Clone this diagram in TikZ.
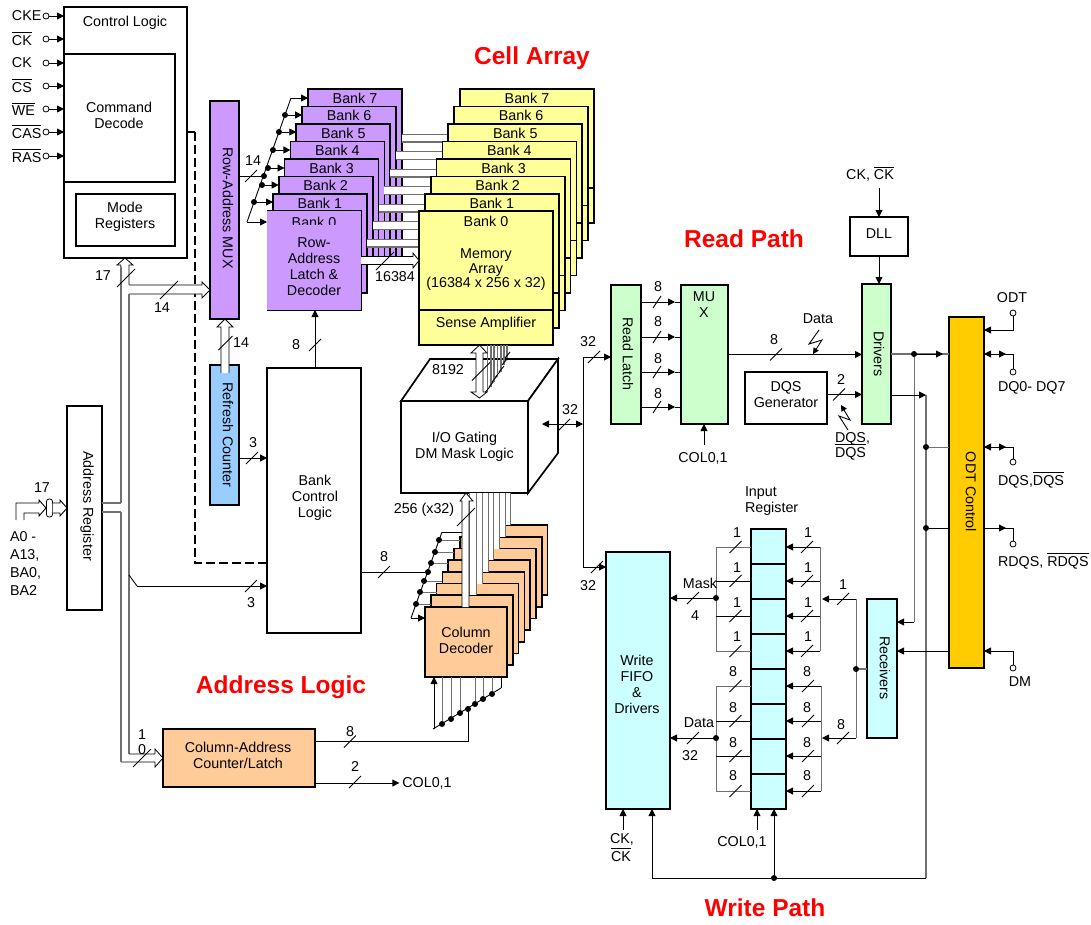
\documentclass[tikz,border=0pt]{standalone}
\usepackage{fontspec}
\setmainfont{Liberation Sans}
\usetikzlibrary{arrows.meta,calc}
\definecolor{cpurple}{HTML}{CC99FF}
\definecolor{cyellow}{HTML}{FFFF99}
\definecolor{corange}{HTML}{FFCC99}
\definecolor{cgreen}{HTML}{CCFFCC}
\definecolor{ccyan}{HTML}{CCFFFF}
\definecolor{cblue}{HTML}{99CCFF}
\definecolor{codt}{HTML}{FFCC00}
\definecolor{cgl}{HTML}{707070}
\newcommand\ovl[1]{\leavevmode\vbox{\hrule height .8pt \kern 2.2pt\hbox{#1}}}
\newcounter{tn}
\newcommand\tx[4][]{\stepcounter{tn}\node[#1] (t\arabic{tn}) at (#2,#3) {#4};}
\newcommand\bx[7][]{\pgfmathsetmacro\bw{#5-#3}\pgfmathsetmacro\bh{#6-#4}\node[box,#1,minimum width=\bw pt,minimum height=\bh pt,anchor=north west] (#2) at (#3,#4) {#7};}
\newcommand\tk[3][6]{\draw[thin1] (#2-#1,#3+#1) -- (#2+#1,#3-#1);}
\newcommand\tks[2]{\draw[thin1] (#1-4,#2+6) -- (#1+4,#2-6);}
\tikzset{
 every node/.style={font=\fontsize{14.3}{16}\selectfont,inner sep=0pt,outer sep=0pt,align=center},
 box/.style={draw,line width=1.7pt},
 thin1/.style={line width=.9pt},
 arr/.style={line width=.9pt,-{Triangle[length=7pt,width=7pt]}},
 darr/.style={line width=.9pt,{Triangle[length=7pt,width=7pt]}-{Triangle[length=7pt,width=7pt]}},
 gl/.style={line width=1.1pt,draw=cgl},
 dot/.style={circle,fill=black,minimum size=6pt},
 pinc/.style={circle,draw,fill=white,line width=.8pt,minimum size=6pt},
 bus/.style={fill=white,draw=black,line width=.8pt},
 title/.style={font=\fontsize{24.5}{28}\selectfont\bfseries,text=red},
}
\begin{document}
\begin{tikzpicture}[x=1pt,y=-1pt]
\useasboundingbox (0,0) rectangle (1091,924);
% --- control block
\bx{ctrl}{64}{7}{187}{258}{}
\bx{cmd}{64}{54}{175}{182}{}
\bx{modereg}{76}{194}{175}{246}{}
\tx{125}{23}{Control Logic}
\tx{119}{115}{Command\\Decode}
\tx{125}{217}{Mode\\Registers}
\foreach \nm/\yy/\lbl in {a/16/CKE,b/39/\ovl{CK},c/63/CK,d/86/\ovl{CS},e/109/\ovl{WE},f/132/\ovl{CAS},g/156/\ovl{RAS}}{
 \node[pinc] (p\nm) at (46,\yy) {};
 \node[anchor=west] (l\nm) at (12,\yy) {\lbl};
 \draw[arr] (p\nm.east) -- (ctrl.west |- p\nm);
}
% --- dashed control
\coordinate (dashs) at (195,132);
\draw[line width=2.6pt] (ctrl.east |- dashs) -- (dashs);
% --- bank control & others
\bx{bcl}{267}{368}{361}{633}{}
\tx{315}{498}{Bank\\Control\\Logic}
\coordinate (dashc) at (195,563);
\draw[line width=2.6pt,dash pattern=on 9pt off 4pt] (dashs) -- (dashc) -- (bcl.west |- dashc);
\bx[fill=cpurple]{rmux}{210}{101}{239}{319}{}
\tx[rotate=-90]{228}{208}{Row-Address MUX}
\bx[fill=cblue]{refresh}{210}{365}{239}{505}{}
\tx[rotate=-90]{228}{435}{Refresh Counter}
\bx{areg}{67}{406}{102}{610}{}
\tx[rotate=-90]{87}{506}{Address Register}
% address input
\draw[line width=.9pt,fill=white] (16,520) -- (16,503) -- (39,503) -- (39,500) -- (46,508) -- (39,516) -- (39,513) -- (24,513) -- (24,520);
\node[draw,fill=white,line width=.8pt,rounded corners=2.5pt,minimum width=6pt,minimum height=18pt] (oval) at (49.5,508) {};
\draw[line width=.9pt,fill=white] (oval.east |- 0,503) -- (60,503) -- (60,500) -- (areg.west |- 0,508) -- (60,516) -- (60,513) -- (oval.east |- 0,513);
\tx{42}{488}{17}
\tx[anchor=west,align=left]{10}{563}{A0 -\\[2pt]A13,\\[2pt]BA0,\\[2pt]BA2}
% address bus
\draw[gl] (areg.east |- 0,503) -- (121,503);
\draw[gl] (areg.east |- 0,512) -- (121,512);
\draw[gl] (121,265) -- (121,503);
\draw[bus] (121,265) -- (117,265) -- (ctrl.south -| 125,0) -- (133,265) -- (129,265) -- (129,285);
\draw[bus] (129,285) -- (202,285) -- (202,282) -- (rmux.west |- 0,290) -- (202,298) -- (202,294) -- (129,294);
\draw[gl] (129,294) -- (129,754);
\draw[gl] (121,512) -- (121,762);
\coordinate (bra) at (129,575);
\coordinate (brb) at (137,586);
\draw[thin1] (bra) -- (brb);
\draw[arr] (brb) -- (bcl.west |- brb);
\tk{251}{586}
\tx{251}{603}{3}
\tk[9]{126}{278}
\tx{103}{276}{17}
\tk[9]{169}{290}
\tx{162}{308}{14}
% column counter
\bx[fill=corange]{ccnt}{163}{729}{315}{787}{}
\tx{238}{755}{Column-Address\\Counter/Latch}
\draw[bus] (129,754) -- (155,754) -- (155,749) -- (ccnt.west |- 0,758) -- (155,767) -- (155,762) -- (121,762);
\tk[9]{142}{758}
\tx[fill=none]{142}{735}{1}
\tx{142}{750}{0}
% refresh to mux
\draw[bus] (221,373) -- (221,327) -- (217,327) -- (rmux.south -| 225,0) -- (233,327) -- (229,327) -- (229,373);
\tk[7]{225.5}{343}
\tx{241}{343}{14}
\draw[arr] (refresh.east |- 0,458) -- (bcl.west |- 0,458);
\tk{252}{458}
\tx{253}{443}{3}
% --- purple banks
\foreach \k in {7,...,2}{
 \pgfmathsetmacro\lx{308-5.87*(7-\k)}\pgfmathsetmacro\ty{89+17.5*(7-\k)}\pgfmathsetmacro\rx{\lx+94}
 \bx[fill=cpurple]{pb\k}{\lx}{\ty}{\rx}{262}{}
}
\bx[fill=cpurple]{pb1}{273}{194}{367}{293}{}
\foreach \k in {7,...,1}{
 \pgfmathsetmacro\xx{355-5.87*(7-\k)}\pgfmathsetmacro\yy{98+17.5*(7-\k)}
 \tx{\xx}{\yy}{Bank \k}
}
% buses purple-yellow
\foreach \k in {7,...,1}{
 \pgfmathsetmacro\xa{402-5.87*(7-\k)}\pgfmathsetmacro\xb{460-5.87*(7-\k)}\pgfmathsetmacro\ya{134+17.5*(7-\k)}\pgfmathsetmacro\yb{\ya+8}
 \fill[white] (\xa,\ya) rectangle (\xb,\yb);
 \draw[line width=.8pt,draw=cgl] (\xa,\ya) -- (\xb,\ya);
 \draw[line width=1.4pt,draw=cgl] (\xa,\yb) -- (\xb,\yb);
}
% bank 0 and latch
\node[fill=cpurple,minimum width=94pt,minimum height=100pt,anchor=north west] (pb0) at (267,210) {};
\draw[line width=.8pt] (pb0.north west) -- (pb0.north east) -- (pb0.south east) -- (pb0.south west);
\tx{314}{222}{Bank 0}
\node[fill=cpurple,minimum width=93pt,minimum height=84.5pt,anchor=north west] (latch) at (267,225) {};
\tx{314}{267}{Row-\\Address\\Latch \&\\Decoder}
% select lines to row banks
\coordinate (sa) at (247,222);
\coordinate (sb) at (291,98);
\draw[thin1] (sa) -- (sb);
\draw[arr] (sb) -- (pb7.west |- sb);
\draw[arr] (sa) -- (pb0.west |- sa);
\foreach \k/\xx/\yy in {6/285/115,5/279/132,4/273/150,3/268/168,2/262/185,1/254/202}{
 \node[dot] (ds\k) at (\xx,\yy) {};
 \draw[arr] (ds\k) -- (pb\k.west |- ds\k);
}
\node[dot] (dsj) at (264,176) {};
\draw[thin1] (rmux.east |- dsj) -- (dsj);
\tk{251}{176}
\tx{253}{161}{14}
\draw[arr] (bcl.north -| 315,0) -- (pb0.south -| 315,0);
\tk{315}{345}
\tx{296}{345}{8}
% --- yellow banks
\foreach \k in {7,...,1}{
 \pgfmathsetmacro\lx{460-5.87*(7-\k)}\pgfmathsetmacro\ty{89+17.5*(7-\k)}\pgfmathsetmacro\rx{\lx+134}\pgfmathsetmacro\by{\ty+134}\pgfmathsetmacro\dy{\ty+99}
 \bx[fill=cyellow]{yb\k}{\lx}{\ty}{\rx}{\by}{}
 \draw[line width=1.5pt] (\lx,\dy) -- (\rx,\dy);
 \pgfmathsetmacro\xx{\lx+67}\pgfmathsetmacro\yy{\ty+9}
 \tx{\xx}{\yy}{Bank \k}
}
\bx[fill=cyellow]{yb0}{419}{211}{553}{345}{}
\draw[line width=1.7pt] (yb0.west |- 0,310) -- (yb0.east |- 0,310);
\tx{486}{221}{Bank 0}
\tx{486}{270}{Memory\\[-1.5pt]Array\\[-1.5pt](16384 x 256 x 32)}
\tx{486}{324}{Sense Amplifier}
% bank0 hollow arrow
\draw[bus,draw=black] (pb0.east |- 0,256.5) -- (413,256.5) -- (413,253) -- (yb0.west |- 0,260.5) -- (413,268) -- (413,264.5) -- (pb0.east |- 0,264.5);
\tk[9]{385}{261}
\tx{395}{277}{16384}
% --- IO gating
\node[box,fill=white,minimum width=127pt,minimum height=92pt,anchor=north west] (io) at (401,401) {I/O Gating\\DM Mask Logic};
\coordinate (iob) at (430,359);
\coordinate (ioc) at (558,359);
\coordinate (iod) at (558,453);
\filldraw[fill=white,line width=1.7pt] (io.north west) -- (iob) -- (ioc) -- (io.north east) -- cycle;
\filldraw[fill=white,line width=1.7pt] (io.north east) -- (ioc) -- (iod) -- (io.south east) -- cycle;
\foreach \xx/\yy in {487.5/392,491/387,494/382,497.5/377,501/372,504/365,507/358}{
 \draw[gl] (\xx,345) -- (\xx,\yy);
 \draw[thin1] (\xx-2,\yy) -- (\xx+3,\yy-6);
}
\draw[bus] (yb0.south -| 479.5,0) -- (471,353) -- (476,353) -- (476,392) -- (471,392) -- (479.5,398) -- (487,392) -- (483,392) -- (483,353) -- (487,353) -- cycle;
\tk[9]{481}{371.5}
\tx[fill=white]{448}{370}{8192}
% --- column decoders
\foreach \k in {7,...,1}{
 \pgfmathsetmacro\lx{425+5.8*\k}\pgfmathsetmacro\ty{607-11.7*\k}\pgfmathsetmacro\rx{\lx+82}\pgfmathsetmacro\by{\ty+70}
 \bx[fill=corange]{cd\k}{\lx}{\ty}{\rx}{\by}{}
}
\bx[fill=corange]{cd0}{425}{607}{507}{677}{}
\tx{466}{640}{Column\\Decoder}
% decoder selects
\coordinate (qa) at (411,618);
\coordinate (qb) at (442,532);
\draw[thin1] (qa) -- (qb);
\draw[thin1] (qb) -- (cd7.west |- qb);
\draw[arr] (qa) -- (cd0.west |- qa);
\foreach \k/\xx/\yy in {6/439/540,5/435/552,4/431/563,3/424/581,2/420/592,1/416/604}{
 \node[dot] (dq\k) at (\xx,\yy) {};
 \draw[line width=.9pt,draw=cgl] (dq\k) -- (cd\k.west |- dq\k);
}
\node[dot] (dqj) at (428,572) {};
\draw[thin1] (bcl.east |- dqj) -- (dqj);
\tk{384}{572}
\tx{384}{557}{8}
% bars
\foreach \xa/\xb/\k in {505/510.5/7,499/505/6,493/499/5,488/493/4,482/488/3,476/482/2,469/476/1}{
 \pgfmathsetmacro\by{607-11.7*\k}
 \fill[white] (\xa,493) rectangle (\xb,\by);
 \draw[line width=.9pt,draw=cgl] (\xa,493) -- (\xa,\by);
 \draw[line width=.9pt,draw=cgl] (\xb,493) -- (\xb,\by);
}
\draw[bus] (462,607) -- (462,501) -- (460,501) -- (io.south -| 466,0) -- (473,501) -- (469,501) -- (469,607);
\tk[9]{466}{517}
\tx{424}{510}{256 (x32)}
% decoder bottom
\coordinate (ra) at (433,729);
\coordinate (rb) at (501,688);
\draw[thin1] (ra) -- (rb);
\draw[arr] (434,729) -- (cd0.south -| 434,0);
\draw[line width=.9pt] (rb) -- (rb |- cd0.south);
\foreach \xx/\yy in {442/724,451/719,460/713,475/704,483/699,492/694}{
 \node[dot] (dr\xx) at (\xx,\yy) {};
 \draw[line width=.9pt,draw=cgl] (dr\xx) -- (dr\xx |- cd0.south);
}
\node[dot] (drj) at (468,709) {};
\coordinate (cnta) at (468,741.5);
\draw[thin1] (ccnt.east |- cnta) -- (cnta) -- (drj);
\tk{350}{741.5}
\tx{350}{732}{8}
\node (col0) at (427,783) {COL0,1};
\draw[arr] (ccnt.east |- col0) -- ($(col0.west)+(-3,0)$);
\tk{355}{782}
\tx{355}{766}{2}
% --- read path
\bx[fill=cgreen]{rlatch}{611}{285}{641}{424}{}
\tx[rotate=-90]{628}{354}{Read Latch}
\bx[fill=cgreen]{rmx}{681}{285}{728}{424}{}
\tx{704}{305}{MU\\X}
\bx{dqsg}{745}{372}{827}{424}{}
\tx{786}{395}{DQS\\Generator}
\bx[fill=cgreen]{drv}{862}{284}{891}{424}{}
\tx[rotate=-90]{879}{354}{Drivers}
\bx{dll}{850}{217}{908}{256}{}
\tx{879}{234}{DLL}
\tx{870}{174}{CK, \ovl{CK}}
\coordinate (cks) at (879,188);
\draw[arr] (cks) -- (dll.north -| cks);
\draw[arr] (dll.south -| cks) -- (drv.north -| cks);
\foreach \yy/\ly in {302/287,337/322,372/359,407/394}{
 \draw[arr] (rlatch.east |- 0,\yy) -- (675,\yy);
 \draw[thin1] (675,\yy) -- (rmx.west |- 0,\yy);
 \tks{657}{\yy}
 \tx{658}{\ly}{8}
}
\node (colm) at (703,458) {COL0,1};
\coordinate (colmu) at (704,445);
\draw[arr] (colmu) -- (rmx.south -| colmu);
\coordinate (mo) at (728,354.5);
\draw[arr] (rmx.east |- mo) -- (drv.west |- mo);
\tk{776}{354.5}
\tx{774}{340}{8}
\tx{818}{319}{Data}
\draw[line width=.9pt,-{Triangle[length=6pt,width=6pt]}] (819,330) -- (809,344) -- (822,340) -- (813,354);
\draw[arr] (dqsg.east |- 0,394.5) -- (drv.west |- 0,394.5);
\tk{839}{394.5}
\tx{841}{379}{2}
\draw[line width=.9pt,-{Triangle[length=6pt,width=6pt]}] (848,430) -- (839,416) -- (850,420) -- (841,405);
\tx[anchor=west,align=left]{835}{446}{DQS,\\[-1pt]\ovl{DQS}}
% IO right
\tx[fill=white,inner sep=1pt]{570}{410}{32}
\coordinate (vj) at (583,424);
\draw[darr] (iod |- vj) ++(-16,0) -- (vj);
\tk{564}{425}
\coordinate (vt) at (583,357);
\coordinate (vb) at (583,567);
\draw[thin1] (vt) -- (vb);
\draw[arr] (vt) -- (rlatch.west |- vt);
\tk{594}{357}
\tx{588}{342}{32}
% --- write path
\bx[fill=ccyan]{fifo}{606}{552}{670}{809}{}
\tx{637}{684}{Write\\FIFO\\\&\\Drivers}
\draw[arr] (vb) -- (fifo.west |- vb);
\tk{597}{567}
\tx{588}{586}{32}
\bx[fill=ccyan]{ir}{751}{529}{786}{809}{}
\foreach \yy in {564,599,634,669,704,739,774}{
 \draw[line width=1.7pt] (ir.west |- 0,\yy) -- (ir.east |- 0,\yy);
}
\tx[anchor=west,align=left]{745}{501}{Input\\Register}
% mask rails
\draw[line width=.9pt,draw=cgl] (ir.west |- 0,547) -- (716,547) -- (716,651) -- (ir.west |- 0,651);
\draw[line width=.9pt,draw=cgl] (ir.west |- 0,686) -- (716,686) -- (716,791) -- (ir.west |- 0,791);
\foreach \yy in {581,616}{\draw[line width=.9pt] (716,\yy) -- (ir.west |- 0,\yy);}
\foreach \yy in {721,756}{\draw[line width=.9pt] (716,\yy) -- (ir.west |- 0,\yy);}
\draw[line width=.9pt,draw=cgl] (820,547) -- (820,651);
\draw[line width=.9pt,draw=cgl] (821,686) -- (821,791);
\foreach \yy/\ly in {547/533,581/568,616/603,651/637}{
 \draw[arr] (820,\yy) -- (ir.east |- 0,\yy);
 \tk{735.5}{\yy}
 \tk{807}{\yy}
 \tx{737}{\ly}{1}
 \tx{808}{\ly}{1}
}
\foreach \yy/\ly in {686/672,721/708,756/743,791/776}{
 \draw[arr] (821,\yy) -- (ir.east |- 0,\yy);
 \tk{735.5}{\yy}
 \tk{808}{\yy}
 \tx{733}{\ly}{8}
 \tx{807}{\ly}{8}
}
\node[dot] (dmask) at (716,598) {};
\draw[arr] (dmask) -- (fifo.east |- dmask);
\tk{693}{598}
\tx{700}{583}{Mask}
\tx{695}{616}{4}
\node[dot] (ddata) at (716,738) {};
\draw[arr] (ddata) -- (fifo.east |- ddata);
\tk{693}{738}
\tx{699}{723}{Data}
\tx{690}{756}{32}
% receivers
\bx[fill=ccyan]{recv}{867}{599}{897}{738}{}
\tx[rotate=-90]{885}{668}{Receivers}
\coordinate (fu) at (856,599);
\coordinate (fd) at (856,738);
\draw[line width=.9pt,draw=cgl] (fu) -- (fd);
\node[dot] (dfeed) at (856,669) {};
\draw[line width=1.1pt,draw=cgl] (dfeed) -- (recv.west |- dfeed);
\draw[arr] (fu) -- (822,599);
\draw[arr] (fd) -- (822,738);
\tk{843}{599}
\tk{843}{738}
\tx{843}{585}{1}
\tx{841}{725}{8}
% bottom
\coordinate (cku) at (623,830);
\draw[arr] (cku) -- (fifo.south -| cku);
\tx{622}{839}{CK,}
\tx{621}{855}{\ovl{CK}}
\coordinate (colw) at (757,830);
\draw[arr] (colw) -- (ir.south -| colw);
\node (colwl) at (742,842) {COL0,1};
\coordinate (wl) at (652,878);
\coordinate (wr) at (926,878);
\draw[line width=.9pt] (wl) -- (wr);
\node[dot] (dw) at (774,878) {};
\draw[arr] (dw) -- (dw |- ir.south);
\draw[arr] (wl) -- (wl |- fifo.south);
% --- ODT
\bx[fill=codt]{odt}{949}{317}{984}{668}{}
\tx[rotate=-90]{971}{492}{ODT Control}
\draw[line width=1.1pt,draw=cgl] (drv.east |- 0,354) -- (odt.west |- 0,354);
\draw[line width=1.1pt,draw=cgl] (926,395) -- (wr);
\draw[line width=.9pt,draw=cgl] (914,354) -- (914,622);
\node[dot] (d1) at (914,354) {};
\node[dot] (d2) at (926,447) {};
\node[dot] (d3) at (926,528) {};
\draw[arr] (d1) -- (943,354);
\draw[arr] (914,622) -- (recv.east |- 0,622);
\draw[arr] (drv.east |- 0,395) -- (926,395);
\draw[line width=.9pt,draw=cgl] (d2) -- (odt.west |- d2);
\draw[line width=.9pt] (d3) -- (odt.west |- d3);
\draw[arr] (odt.west |- 0,651) -- (recv.east |- 0,651);
% ODT right side
\node[pinc] (podt) at (1013,313) {};
\node[pinc] (pdq) at (1013,372) {};
\node[pinc] (pdqs) at (1013,462) {};
\node[pinc] (prdqs) at (1013,544) {};
\node[pinc] (pdm) at (1013,668) {};
\draw[arr] (podt.south) -- (1013,330) -- (odt.east |- 0,330);
\draw[arr] (pdm.north) -- (1013,651) -- (odt.east |- 0,651);
\foreach \pn/\yy in {pdq/354,pdqs/447}{
 \draw[line width=.9pt] (\pn.north) -- (1013,\yy) -- (odt.east |- 0,\yy);
 \draw[arr] (1000,\yy) -- (odt.east |- 0,\yy);
 \draw[arr] (995,\yy) -- (1006,\yy);
}
\draw[line width=.9pt] (prdqs.north) -- (1013,528) -- (odt.east |- 0,528);
\draw[arr] (995,528) -- (1006,528);
\tx{1012}{298}{ODT}
\tx[anchor=west]{998}{388}{DQ0- DQ7}
\tx[anchor=west]{998}{480}{DQS,\ovl{DQS}}
\tx[anchor=west]{998}{561}{RDQS, \ovl{RDQS}}
\tx{1020}{682}{DM}
% titles
\tx[title]{532}{58}{Cell Array}
\tx[title]{744}{239}{Read Path}
\tx[title]{281}{687}{Address Logic}
\tx[title]{765}{908}{Write Path}
\end{tikzpicture}
\end{document}
